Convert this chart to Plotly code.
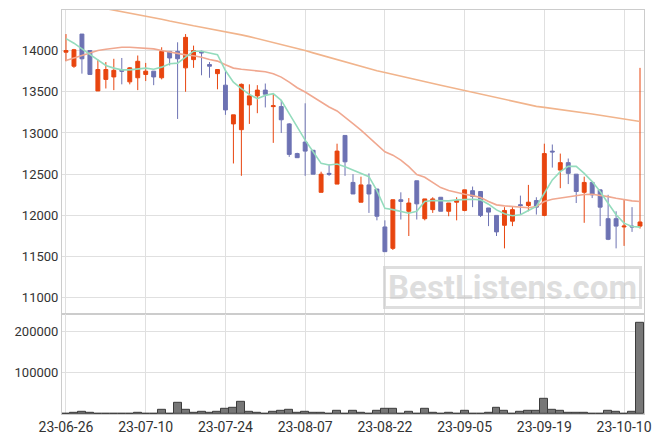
import plotly.graph_objects as go

dates = ["23-06-26", "23-06-27", "23-06-28", "23-06-29", "23-06-30",
         "23-07-03", "23-07-04", "23-07-05", "23-07-06", "23-07-07",
         "23-07-10", "23-07-11", "23-07-12", "23-07-13", "23-07-14",
         "23-07-17", "23-07-18", "23-07-19", "23-07-20", "23-07-21",
         "23-07-24", "23-07-25", "23-07-26", "23-07-27", "23-07-28",
         "23-07-31", "23-08-01", "23-08-02", "23-08-03", "23-08-04",
         "23-08-07", "23-08-08", "23-08-09", "23-08-10", "23-08-11",
         "23-08-14", "23-08-16", "23-08-17", "23-08-18", "23-08-21",
         "23-08-22", "23-08-23", "23-08-24", "23-08-25", "23-08-28",
         "23-08-29", "23-08-30", "23-08-31", "23-09-01", "23-09-04",
         "23-09-05", "23-09-06", "23-09-07", "23-09-08", "23-09-11",
         "23-09-12", "23-09-13", "23-09-14", "23-09-15", "23-09-18",
         "23-09-19", "23-09-20", "23-09-21", "23-09-22", "23-09-25",
         "23-09-26", "23-09-27", "23-10-04", "23-10-05", "23-10-06",
         "23-10-10", "23-10-11", "23-10-12"]

open_ = [13980, 13810, 14200, 14000, 13510, 13650, 13680, 13760, 13620, 13670,
         13710, 13750, 13670, 13990, 13990, 13790, 13890, 13990, 13830, 13720,
         13580, 13110, 13040, 13340, 13450, 13520, 13320, 13320, 13110, 12750,
         12890, 12790, 12280, 12510, 12380, 12970, 12400, 12160, 12370, 12320,
         11860, 11600, 12190, 12050, 12420, 11960, 12070, 12220, 12050, 12160,
         12060, 12300, 12290, 12090, 12000, 11880, 11930, 12130, 12120, 12180,
         12000, 12780, 12550, 12640, 12500, 12280, 12400, 12310, 11960, 11960,
         11860, 11870, 11870]

high = [14200, 14020, 14200, 14000, 13890, 13860, 13900, 13910, 13800, 13940,
        13850, 13750, 14040, 13990, 14100, 14200, 14060, 14000, 13860, 13770,
        13760, 13220, 13600, 13590, 13580, 13600, 13480, 13400, 13120, 12760,
        13360, 12790, 12530, 12620, 12870, 12970, 12500, 12470, 12510, 12320,
        11940, 12190, 12280, 12210, 12420, 12200, 12220, 12220, 12150, 12220,
        12310, 12350, 12290, 12090, 12000, 12100, 12100, 12240, 12370, 12220,
        12870, 12860, 12750, 12690, 12500, 12470, 12410, 12310, 12250, 12050,
        12190, 12100, 13790]

low = [13870, 13790, 13720, 13710, 13510, 13540, 13520, 13590, 13590, 13520,
       13630, 13580, 13650, 13820, 13170, 13500, 13790, 13700, 13670, 13530,
       13220, 12630, 12480, 13110, 13240, 13310, 12880, 13000, 12710, 12700,
       12480, 12500, 12280, 12480, 12380, 12480, 12260, 12160, 12030, 11940,
       11560, 11580, 11950, 11750, 11950, 11940, 12030, 12050, 11990, 11940,
       12050, 12100, 11980, 11870, 11750, 11600, 11870, 12010, 12050, 12010,
       11990, 12580, 12330, 12380, 12150, 11910, 12210, 11870, 11700, 11600,
       11630, 11800, 11840]

close = [14000, 14010, 13900, 13710, 13770, 13770, 13760, 13750, 13790, 13870,
         13750, 13680, 13990, 13910, 13900, 14160, 14000, 13970, 13810, 13770,
         13280, 13220, 13590, 13450, 13520, 13470, 13330, 13160, 12740, 12700,
         12780, 12500, 12500, 12500, 12780, 12650, 12260, 12370, 12260, 11990,
         11560, 12190, 12170, 12150, 12140, 12200, 12200, 12050, 12150, 12180,
         12310, 12230, 12000, 12040, 11800, 12060, 12070, 12120, 12160, 12100,
         12750, 12770, 12640, 12510, 12290, 12400, 12250, 12100, 11710, 11870,
         11870, 11860, 11920]

ma5 = [14145, 14089, 14020, 13950, 13879, 13819, 13787, 13766, 13766, 13774,
       13787, 13774, 13799, 13839, 13847, 13919, 13992, 13992, 13972, 13950,
       13758, 13617, 13537, 13468, 13416, 13456, 13477, 13396, 13235, 13074,
       12913, 12772, 12631, 12611, 12623, 12591, 12550, 12510, 12470, 12300,
       12087, 12070, 12045, 12027, 12050, 12168, 12180, 12176, 12176, 12188,
       12196, 12196, 12188, 12136, 12067, 12019, 11995, 12007, 12059, 12108,
       12269, 12430, 12530, 12595, 12595, 12510, 12410, 12289, 12148, 12007,
       11906, 11866, 11858]

ma20 = [13879, 13911, 13940, 13968, 14000, 14016, 14032, 14040, 14040, 14036,
        14032, 14020, 14000, 13980, 13960, 13948, 13936, 13919, 13891, 13872,
        13827, 13787, 13774, 13762, 13754, 13742, 13718, 13678, 13617, 13549,
        13497, 13436, 13376, 13315, 13267, 13195, 13114, 13034, 12945, 12852,
        12772, 12731, 12671, 12591, 12495, 12462, 12398, 12337, 12301, 12277,
        12257, 12240, 12216, 12168, 12128, 12116, 12108, 12100, 12092, 12108,
        12168, 12196, 12212, 12228, 12244, 12253, 12257, 12244, 12228, 12208,
        12188, 12176, 12168]

ma_long = [14600, 14582, 14565, 14545, 14528, 14510, 14491, 14474, 14457, 14440,
           14423, 14401, 14380, 14358, 14337, 14318, 14300, 14283, 14265, 14247,
           14234, 14212, 14190, 14169, 14146, 14124, 14101, 14076, 14050, 14025,
           14000, 13972, 13944, 13915, 13887, 13860, 13833, 13806, 13779, 13756,
           13733, 13710, 13686, 13662, 13638, 13618, 13598, 13578, 13558, 13537,
           13517, 13494, 13470, 13447, 13424, 13403, 13383, 13363, 13343, 13323,
           13311, 13299, 13287, 13275, 13260, 13245, 13230, 13215, 13200, 13185,
           13170, 13155, 13140]

volume = [500, 4000, 6400, 4000, 1600, 800, 1600, 1600, 1600, 4000,
          1600, 1600, 11200, 1600, 28000, 11200, 4000, 6400, 4000, 6400,
          13600, 16000, 30400, 6400, 4000, 1600, 6400, 8800, 11200, 4000,
          6400, 4000, 4000, 1600, 8800, 1600, 8800, 4000, 1600, 8800,
          13600, 13600, 1600, 6400, 1600, 13600, 4000, 1600, 4000, 1600,
          8800, 500, 1600, 4000, 16000, 8800, 1600, 6400, 8800, 8800,
          37600, 11200, 8800, 4000, 4000, 4000, 1600, 1600, 8800, 6400,
          1600, 6400, 220000]

price_ticks = [11000, 11500, 12000, 12500, 13000, 13500, 14000]
volume_ticks = [100000, 200000]
x_ticks = dates[::10]

UP = "#e8450f"
DOWN = "#6d72b3"
GRID = "#e0e0e0"
AXIS = "#cccccc"
FONT = "Roboto"

fig = go.Figure()
fig.add_trace(go.Scatter(x=dates, y=ma_long, mode="lines",
                         line=dict(color="#f1b48c", width=1.6), hoverinfo="skip"))
fig.add_trace(go.Scatter(x=dates, y=ma20, mode="lines",
                         line=dict(color="#f0a890", width=1.6), hoverinfo="skip"))
fig.add_trace(go.Scatter(x=dates, y=ma5, mode="lines",
                         line=dict(color="#94dcbd", width=1.6), hoverinfo="skip"))
fig.add_trace(go.Candlestick(
    x=dates, open=open_, high=high, low=low, close=close,
    increasing=dict(line=dict(color=UP, width=1), fillcolor=UP),
    decreasing=dict(line=dict(color=DOWN, width=1), fillcolor=DOWN),
    whiskerwidth=0))
fig.add_trace(go.Bar(x=dates, y=volume, xaxis="x2", yaxis="y2",
                     marker=dict(color="#777777", line=dict(color="#3c3c3c", width=1))))

common_x = dict(type="category", range=[-0.5, len(dates) - 0.5],
                tickmode="array", tickvals=x_ticks,
                showgrid=True, gridcolor=GRID, gridwidth=1,
                showline=True, linecolor=AXIS, linewidth=1, mirror=True,
                zeroline=False, ticks="")

fig.update_layout(
    width=663, height=444,
    margin=dict(l=62, r=19, t=9, b=29),
    paper_bgcolor="white", plot_bgcolor="white",
    showlegend=False, bargap=0, boxgap=0.3,
    font=dict(family=FONT, size=13, color="#333333"),
    xaxis=dict(common_x, anchor="y", showticklabels=False,
               rangeslider=dict(visible=False)),
    xaxis2=dict(common_x, anchor="y2", showticklabels=True,
                tickfont=dict(family=FONT, size=14, color="#333333")),
    yaxis=dict(domain=[0.248, 1.0], range=[10806, 14492],
               tickmode="array", tickvals=price_ticks, tickformat="d",
               showgrid=True, gridcolor=GRID, zeroline=False,
               showline=True, linecolor=AXIS, mirror=True, ticks="",
               tickfont=dict(family=FONT, size=13, color="#333333")),
    yaxis2=dict(domain=[0.0, 0.248], range=[0, 241800],
                tickmode="array", tickvals=volume_ticks, tickformat="d",
                showgrid=True, gridcolor=GRID, zeroline=False,
                showline=True, linecolor=AXIS, mirror=True, ticks="",
                tickfont=dict(family=FONT, size=13, color="#333333")),
    annotations=[dict(
        text="BestListens.com", xref="paper", yref="paper",
        x=0.774, y=0.312, xanchor="center", yanchor="middle",
        showarrow=False, width=253, height=37,
        font=dict(family=FONT, size=33, color="rgba(190,190,190,0.5)", weight="bold"),
        bordercolor="rgba(200,200,200,0.6)", borderwidth=3, borderpad=0)],
)

fig.write_html("out.html", config={"displayModeBar": False},
               post_script="document.body.style.margin='0';document.body.style.padding='0';")
